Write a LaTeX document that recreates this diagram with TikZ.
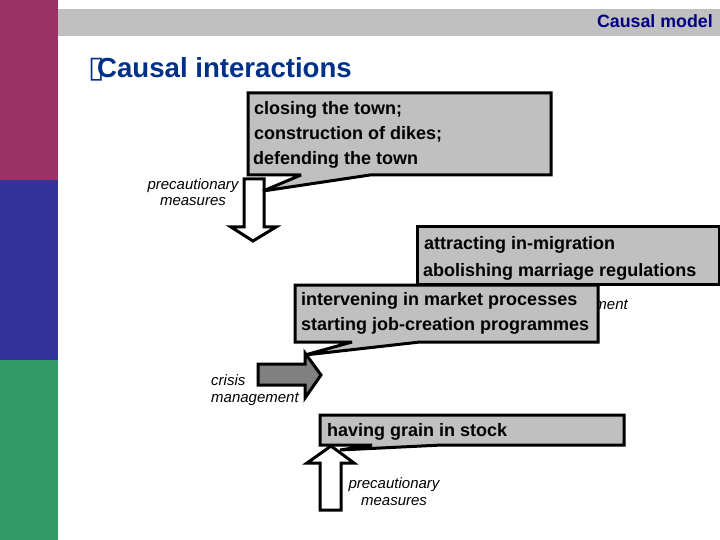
\documentclass[tikz,border=0pt]{standalone}
\usepackage{fontspec}
\setmainfont{Liberation Sans}
\newfontfamily\boxglyph{DejaVu Sans}
\definecolor{barred}{HTML}{993366}
\definecolor{barblue}{HTML}{333399}
\definecolor{bargreen}{HTML}{339966}
\definecolor{bargray}{HTML}{C0C0C0}
\definecolor{titleblue}{HTML}{003087}
\definecolor{headnavy}{HTML}{000080}
\tikzset{
	calloutbox/.style={draw=black,line width=3pt,fill=bargray,miter limit=2},
	blockarrow/.style={draw=black,line width=3pt,fill=white,miter limit=4},
	boxtext/.style={anchor=base west,inner sep=0pt,font=\fontsize{18}{18}\selectfont\bfseries},
	armlabel/.style={inner sep=0pt,font=\fontsize{15}{15}\selectfont\itshape},
}
\begin{document}
\begin{tikzpicture}[x=1pt,y=-1pt]
	\useasboundingbox (0,0) rectangle (720,540);
	\clip (0,0) rectangle (720,540);
	% side bars and header
	\fill[barred] (0,0) rectangle (58,180);
	\fill[barblue] (0,180) rectangle (58,360);
	\fill[bargreen] (0,360) rectangle (58,540);
	\fill[bargray] (58,9) rectangle (720,36);
	\node[anchor=base east,inner sep=0pt,text=headnavy,font=\fontsize{17.8}{18}\selectfont\bfseries] (header) at (713,28) {Causal model};
	\node[anchor=base west,inner sep=0pt,text=titleblue,font=\fontsize{27.6}{28}\selectfont\bfseries] (title) at (88,77.5) {\rlap{\boxglyph\bfseries\fontsize{30}{30}\selectfont\char"25AF}\hspace{9pt}Causal interactions};

	% arrows
	\draw[blockarrow] (244,179) -- (264,179) -- (264,227) -- (276,227) -- (253,241) -- (231,227) -- (244,227) -- cycle;
	\draw[blockarrow,fill=black!50] (258,364) -- (305,364) -- (305,353) -- (321,375) -- (305,398) -- (305,385) -- (258,385) -- cycle;
	\draw[blockarrow] (320,510) -- (341,510) -- (341,463) -- (354,463) -- (331,446) -- (307,463) -- (320,463) -- cycle;

	% arm labels
	\node[armlabel] (precautionTop) at (193,186) {precautionary};
	\node[armlabel] (measuresTop) at (193,202) {measures};
	\node[armlabel,anchor=base west] (crisisLeft) at (211,385) {crisis};
	\node[armlabel,anchor=base west] (managementLeft) at (211,402) {management};
	\node[armlabel] (precautionLow) at (394,485) {precautionary};
	\node[armlabel] (measuresLow) at (394,502) {measures};
	\node[armlabel,anchor=base east] (managementHidden) at (628,309) {management};

	% callouts
	\draw[calloutbox] (248,93) -- (551,93) -- (551,175) -- (370,175) -- (263,191) -- (301,175) -- (248,175) -- cycle;
	\draw[calloutbox] (417,227) -- (719,227) -- (719,284) -- (417,284) -- cycle;
	\draw[calloutbox] (295,285) -- (598,285) -- (598,342) -- (420,342) -- (305,355) -- (352,342) -- (295,342) -- cycle;
	\draw[calloutbox] (320,415) -- (624,415) -- (624,445) -- (442,445) -- (340,450) -- (372,445) -- (320,445) -- cycle;

	% callout texts
	\begin{scope}[every node/.style={boxtext}]
	\node (closing) at (254,115) {closing the town;};
	\node (dikes) at (254,140) {construction of dikes;};
	\node (defending) at (253,165) {defending the town};
	\node (attracting) at (424,249) {attracting in-migration};
	\node (abolishing) at (423,276) {abolishing marriage regulations};
	\node (intervening) at (301,305) {intervening in market processes};
	\node (starting) at (301,330) {starting job-creation programmes};
	\node (grain) at (327,436) {having grain in stock};
	\end{scope}
\end{tikzpicture}
\end{document}
